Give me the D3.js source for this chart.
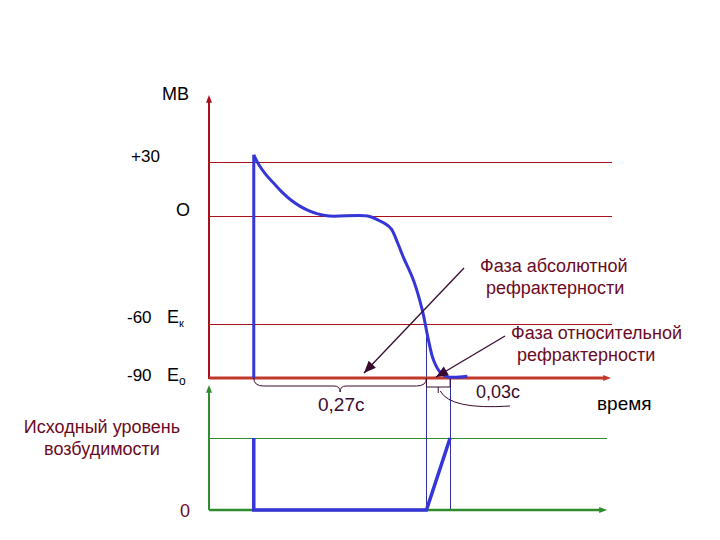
<!DOCTYPE html>
<html><head><meta charset="utf-8">
<script src="https://cdn.jsdelivr.net/npm/d3@7"></script>
<style>body{margin:0;background:#fff}svg{display:block}text{font-family:"Liberation Sans",Arial,sans-serif}</style>
</head><body><svg id="c" width="720" height="540"></svg>
<script>
// ---- data ----
// membrane potential (time ms, mV)
const apTime = [0, 0, 8, 19, 31, 45, 58, 72, 84, 100, 118, 178, 194, 206, 215, 225, 234, 250, 264, 272, 281, 292, 304, 334];
const apVolt = [-90, 34, 28.5, 23, 18.3, 13, 8.9, 5.5, 3.3, 1.2, 0, 0, -2.2, -4.4, -7.2, -15, -23, -36, -53, -67, -80, -87, -89.4, -89];
// excitability (% of initial level)
const exTime = [0, 0, 270, 307];
const exLevel = [100, 0, 0, 100];
// reference levels of potential
const levelValues = [30, 0, -60];
const levelLabels = ["+30", "О", "-60"];
const phaseMarks = [0, 270, 307]; // ms: start, end absolute, end relative
const durationLabels = ["0,27с", "0,03с"];

const svg = d3.select("#c");
const x = d3.scaleLinear().domain([-70, 557]).range([209, 610]);
const y = d3.scaleLinear().domain([-90, 30]).range([378, 162]);
const y2 = d3.scaleLinear().domain([0, 100]).range([510, 438]);

const red = "#a8101c", redAxis = "#c0392b", green = "#2e8b2e", blue = "#3535d8", dark = "#3a0a30", maroon = "#6a0a24";
const h = v => Math.round(v) + 0.5;

// thin horizontal reference lines
svg.selectAll("line.lev").data(levelValues).join("line")
  .attr("x1", x(-70)).attr("x2", 612).attr("y1", d => h(y(d))).attr("y2", d => h(y(d)))
  .attr("stroke", red).attr("stroke-width", 1);
svg.append("line").attr("x1", x(-70)).attr("x2", 607).attr("y1", h(y2(100))).attr("y2", h(y2(100)))
  .attr("stroke", green).attr("stroke-width", 1);

// vertical phase lines
svg.append("line").attr("x1", h(x(270))).attr("x2", h(x(270))).attr("y1", y(-67)).attr("y2", y2(0)).attr("stroke", "#3030a0").attr("stroke-width", 1);
svg.append("line").attr("x1", h(x(307))).attr("x2", h(x(307))).attr("y1", y(-90)).attr("y2", y2(0)).attr("stroke", "#3030a0").attr("stroke-width", 1);

function arrowHead(px, py, dir, color, size) {
  const s = size || 6;
  let pts;
  if (dir === "up") pts = [[px, py], [px - s/2, py + s*1.3], [px + s/2, py + s*1.3]];
  else pts = [[px, py], [px - s*1.3, py - s/2], [px - s*1.3, py + s/2]];
  svg.append("polygon").attr("points", pts.map(p => p.join(",")).join(" ")).attr("fill", color);
}
// upper axes
svg.append("line").attr("x1", x(-70)).attr("x2", x(-70)).attr("y1", y(-90) + 1).attr("y2", 100).attr("stroke", red).attr("stroke-width", 2);
arrowHead(x(-70), 95, "up", red, 6);
svg.append("line").attr("x1", x(-70)).attr("x2", 604).attr("y1", y(-90)).attr("y2", y(-90)).attr("stroke", redAxis).attr("stroke-width", 3);
arrowHead(611, y(-90), "right", redAxis, 6);
// lower axes
svg.append("line").attr("x1", x(-70)).attr("x2", x(-70)).attr("y1", y2(0)).attr("y2", 390).attr("stroke", green).attr("stroke-width", 2);
arrowHead(x(-70), 385, "up", green, 6);
svg.append("line").attr("x1", x(-70)).attr("x2", 600).attr("y1", y2(0)).attr("y2", y2(0)).attr("stroke", green).attr("stroke-width", 2.5);
arrowHead(607, y2(0), "right", green, 6);

// action potential: upstroke then smooth repolarisation
const ap = apTime.map((t, i) => [t, apVolt[i]]);
svg.append("path").datum(ap.slice(0, 2))
  .attr("d", d3.line().x(d => x(d[0])).y(d => y(d[1])))
  .attr("fill", "none").attr("stroke", blue).attr("stroke-width", 3);
svg.append("path").datum(ap.slice(1))
  .attr("d", d3.line().x(d => x(d[0])).y(d => y(d[1])).curve(d3.curveCatmullRom.alpha(0.5)))
  .attr("fill", "none").attr("stroke", blue).attr("stroke-width", 3).attr("stroke-linejoin", "round");

// excitability
const ex = exTime.map((t, i) => [t, exLevel[i]]);
svg.append("path").datum(ex)
  .attr("d", d3.line().x(d => x(d[0])).y(d => y2(d[1])))
  .attr("fill", "none").attr("stroke", blue).attr("stroke-width", 3.5);

// braces
const x0 = x(phaseMarks[0]), x1 = x(phaseMarks[1]), x2 = x(phaseMarks[2]);
const by = y(-90);
const mid = (x0 + x1) / 2;
svg.append("path")
  .attr("d", `M${x0},${by} Q${x0},${by+8} ${x0+10},${by+8} L${mid-6},${by+8} Q${mid},${by+8} ${mid},${by+14} Q${mid},${by+8} ${mid+6},${by+8} L${x1-10},${by+8} Q${x1},${by+8} ${x1},${by}`)
  .attr("fill", "none").attr("stroke", dark).attr("stroke-width", 1);
const mid2 = (x1 + x2) / 2;
svg.append("path")
  .attr("d", `M${x1},${by+1} L${x1},${by+9} L${x2},${by+9} L${x2},${by+1} M${mid2},${by+9} L${mid2},${by+15}`)
  .attr("fill", "none").attr("stroke", dark).attr("stroke-width", 1);
svg.append("path")
  .attr("d", `M${mid2+2},${by+13} Q${mid2+12},${by+32} ${510},${by+28}`)
  .attr("fill", "none").attr("stroke", dark).attr("stroke-width", 1);

// annotation arrows
function pointer(xa, ya, xb, yb) {
  svg.append("line").attr("x1", xa).attr("y1", ya).attr("x2", xb).attr("y2", yb).attr("stroke", dark).attr("stroke-width", 1.3);
  const ang = Math.atan2(yb - ya, xb - xa), L = 12, W = 5;
  const bx = xb - L * Math.cos(ang), byy = yb - L * Math.sin(ang);
  const pts = [[xb, yb], [bx + W * Math.sin(ang), byy - W * Math.cos(ang)], [bx - W * Math.sin(ang), byy + W * Math.cos(ang)]];
  svg.append("polygon").attr("points", pts.map(p => p.join(",")).join(" ")).attr("fill", dark);
}
pointer(464, 268, 364, 373);
pointer(505, 336, 436, 377);

// texts
function txt(s, px, py, opts) {
  const o = opts || {};
  return svg.append("text").attr("x", px).attr("y", py).attr("font-size", o.size || 17)
    .attr("fill", o.color || "#000").attr("text-anchor", o.anchor || "start").text(s);
}
txt("МВ", 162, 100, {size: 18});
txt(levelLabels[0], 131, 162);
txt(levelLabels[1], 176, 216, {size: 18});
txt(levelLabels[2], 127, 323);
const ek = txt("E", 167, 323, {size: 18});
ek.append("tspan").attr("font-size", 11).attr("dy", 4).text("к");
txt("-90", 127, 381);
const eo = txt("E", 167, 381, {size: 18});
eo.append("tspan").attr("font-size", 12).attr("dy", 4).text("о");
txt("Исходный уровень", 102, 433, {anchor: "middle", color: maroon, size: 18});
txt("возбудимости", 102, 455, {anchor: "middle", color: maroon, size: 18});
txt("0", 180, 517, {color: maroon, size: 18});
txt("время", 597, 410, {size: 19});
txt("Фаза абсолютной", 480, 272, {color: maroon, size: 18});
txt("рефрактерности", 486, 294, {color: maroon, size: 18});
txt("Фаза относительной", 511, 339, {color: maroon, size: 18});
txt("рефрактерности", 517, 361, {color: maroon, size: 18});
txt(durationLabels[0], 318, 411, {color: dark, size: 19});
txt(durationLabels[1], 476, 398, {color: dark, size: 18});
</script></body></html>
